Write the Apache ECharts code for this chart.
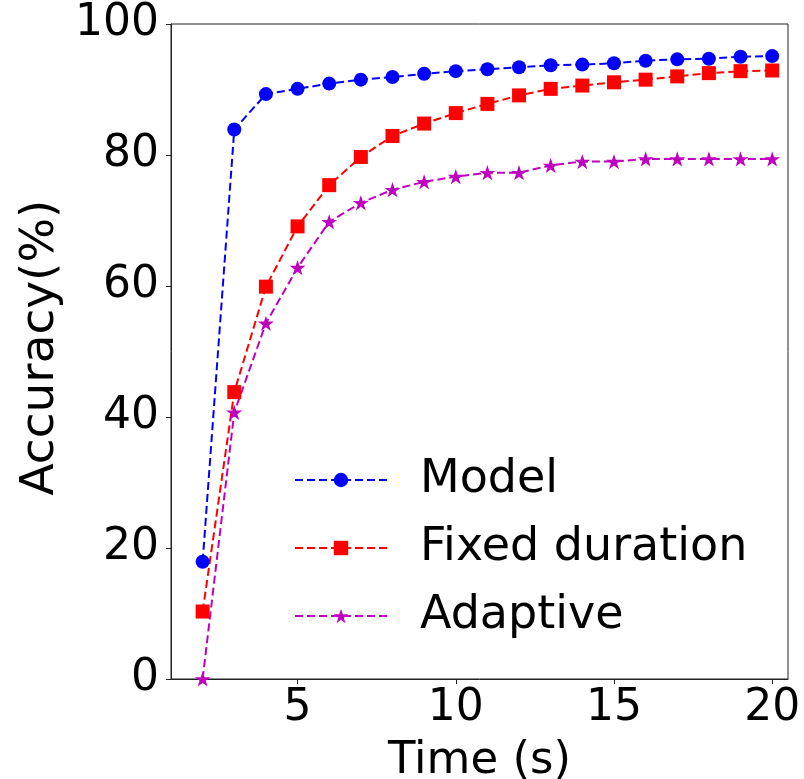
<!DOCTYPE html>
<html>
<head>
<meta charset="utf-8">
<script src="https://cdn.jsdelivr.net/npm/echarts@6/dist/echarts.min.js"></script>
<style>
html,body{margin:0;padding:0;background:#fff;}
#chart{width:804px;height:779px;}
</style>
</head>
<body>
<div id="chart"></div>
<script>
const timeValues = [2,3,4,5,6,7,8,9,10,11,12,13,14,15,16,17,18,19,20];
const modelAcc = [17.9,83.9,89.3,90.1,90.9,91.5,91.9,92.4,92.8,93.1,93.4,93.7,93.8,94.0,94.4,94.6,94.7,95.0,95.1];
const fixedAcc = [10.3,43.8,59.9,69.1,75.4,79.7,82.9,84.8,86.4,87.8,89.1,90.1,90.6,91.1,91.5,92.0,92.5,92.8,92.9];
const adaptiveAcc = [0,40.7,54.3,62.8,69.8,72.7,74.7,75.9,76.7,77.3,77.3,78.4,79.0,79.0,79.4,79.4,79.4,79.4,79.4];
const xTicks = [5,10,15,20];
const seriesNames = ['Model','Fixed duration','Adaptive'];

const FONT = 'DejaVu Sans';
const starPath = 'path://M0,-100 L22.45,-30.9 L95.11,-30.9 L36.33,11.8 L58.78,80.9 L0,38.2 L-58.78,80.9 L-36.33,11.8 L-95.11,-30.9 L-22.45,-30.9 Z';

function pairs(vals){ return timeValues.map((t,i)=>[t, vals[i]]); }

const chart = echarts.init(document.getElementById('chart'), null, {renderer:'canvas'});
const dash = [8,4];
function mk(name, vals, color, symbol, size){
  return {
    name: name, type: 'line', data: pairs(vals),
    symbol: symbol, symbolSize: size, symbolKeepAspect: true,
    showAllSymbol: true, clip: false, animation: false,
    lineStyle: {color: color, width: 2, type: dash},
    itemStyle: {color: color},
    emphasis: {disabled: true}
  };
}
chart.setOption({
  animation: false,
  backgroundColor: '#fff',
  grid: {left:171, right:16, top:24, bottom:100, show:true, borderColor:'#222', borderWidth:1, backgroundColor:'transparent', outerBoundsMode:'none', containLabel:false},
  xAxis: {
    type:'value', min:1, max:20.5,
    name:'Time (s)', nameLocation:'middle', nameGap:60,
    nameTextStyle:{fontFamily:FONT, fontSize:45, color:'#000'},
    axisLine:{show:true, onZero:false, lineStyle:{color:'#222', width:1}},
    axisTick:{show:true, length:5, customValues:xTicks, lineStyle:{color:'#222'}},
    axisLabel:{customValues:xTicks, fontFamily:FONT, fontSize:44, color:'#000', margin:8},
    splitLine:{show:false}
  },
  yAxis: {
    type:'value', min:0, max:100, interval:20,
    name:'Accuracy(%)', nameLocation:'middle', nameGap:104,
    nameTextStyle:{fontFamily:FONT, fontSize:47, color:'#000', padding:[0,0,0,8]},
    axisLine:{show:true, lineStyle:{color:'#222', width:1}},
    axisTick:{show:true, length:5, lineStyle:{color:'#222'}},
    axisLabel:{fontFamily:FONT, fontSize:44, color:'#000', margin:12},
    splitLine:{show:false}
  },
  legend: {
    data: seriesNames, orient:'vertical', left:289, top:452, itemWidth:92, itemHeight:18, itemGap:22,
    textStyle:{fontFamily:FONT, fontSize:46, color:'#000', padding:[0,0,0,28]},
    selectedMode:false
  },
  series: [
    mk(seriesNames[0], modelAcc, '#0000ff', 'circle', 14),
    mk(seriesNames[1], fixedAcc, '#ff0000', 'rect', 14),
    mk(seriesNames[2], adaptiveAcc, '#bf00bf', starPath, 16)
  ]
});
</script>
</body>
</html>
